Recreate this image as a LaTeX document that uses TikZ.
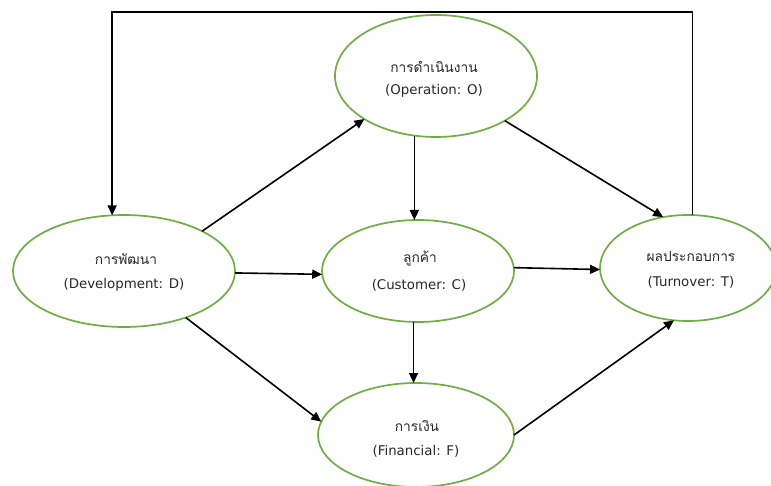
\documentclass[tikz,border=0pt]{standalone}
\usepackage{fontspec}
\setmainfont{DejaVu Sans}
\newfontfamily\thaifont[Script=Thai]{Loma}
\usetikzlibrary{shapes.geometric,arrows.meta}
\definecolor{ringgreen}{RGB}{112,173,71}
\definecolor{txtgray}{RGB}{40,40,40}
\tikzset{
  stage/.style={ellipse, draw=ringgreen, line width=1.7bp, inner sep=0pt, outer sep=0pt},
  thai/.style={font=\thaifont\fontsize{13.8}{16}\selectfont, text=txtgray, inner sep=0pt},
  latin/.style={font=\fontsize{13.4}{16}\selectfont, text=txtgray, inner sep=0pt},
  link/.style={line width=1.6bp, -{Triangle[length=10bp,width=9bp]}},
}
\begin{document}
\begin{tikzpicture}[x=1bp,y=-1bp]
\useasboundingbox (0,0) rectangle (771,486);
\fill[white] (0,0) rectangle (771,486);

% the five perspectives
\node[stage, minimum width=202bp, minimum height=122bp] (O) at (436,76) {};
\node[stage, minimum width=222bp, minimum height=112bp] (D) at (124,271) {};
\node[stage, minimum width=192bp, minimum height=102bp] (C) at (418,271) {};
\node[stage, minimum width=176bp, minimum height=106bp] (T) at (688,268) {};
\node[stage, minimum width=196bp, minimum height=104bp] (F) at (416,435) {};

% labels
\node[thai]  (Oth) at (434,67)  {การดำเนินงาน};
\node[latin] (Oen) at (434,91)  {(Operation: O)};
\node[thai]  (Dth) at (126,259) {การพัฒนา};
\node[latin] (Den) at (124,285) {(Development: D)};
\node[thai]  (Cth) at (420,259) {ลูกค้า};
\node[latin] (Cen) at (419,285) {(Customer: C)};
\node[thai]  (Tth) at (691,257) {ผลประกอบการ};
\node[latin] (Ten) at (691,282) {(Turnover: T)};
\node[thai]  (Fth) at (417,426) {การเงิน};
\node[latin] (Fen) at (416,451) {(Financial: F)};

% connectors
\coordinate (ceil) at (0,12);
\draw[link] (D.27)  -- (O.211);
\draw[link] (O.250) -- (O.250 |- C.north);
\draw[link] (O.327) -- (T.116);
\draw[link] (D.359) -- (C.182);
\draw[link] (C.2)   -- (T.181);
\draw[link] (C.265) -- (C.265 |- F.north);
\draw[link] (D.323) -- (F.172);
\draw[link] (F.0)   -- (T.255);
\draw[link] (T.85) -- (T.85 |- ceil) -- (D.102 |- ceil) -- (D.102);
\end{tikzpicture}
\end{document}
